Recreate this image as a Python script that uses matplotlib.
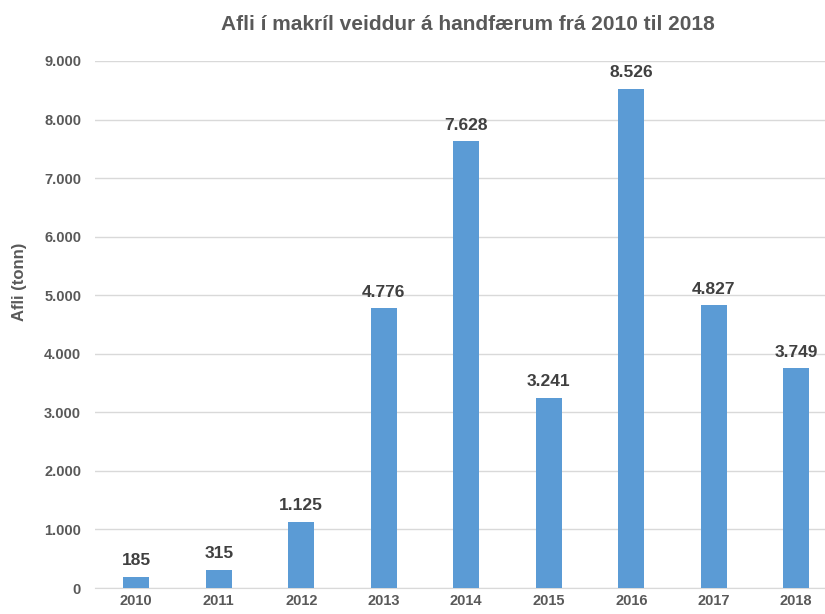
import matplotlib
matplotlib.use("Agg")
import matplotlib.pyplot as plt

plt.rcParams["font.family"] = ["Liberation Sans", "DejaVu Sans"]

years = ["2010", "2011", "2012", "2013", "2014", "2015", "2016", "2017", "2018"]
catch = [185, 315, 1125, 4776, 7628, 3241, 8526, 4827, 3749]
yticks = [0, 1000, 2000, 3000, 4000, 5000, 6000, 7000, 8000, 9000]


def fmt(v):
    # Icelandic thousands separator
    return f"{v:,}".replace(",", ".")


W, H = 825, 614
fig = plt.figure(figsize=(W / 100, H / 100), dpi=100)
ax = fig.add_axes([95 / W, 26 / H, (W - 95) / W, (588 - 61) / H])

x = list(range(len(years)))
bars = ax.bar(x, catch, width=0.32, color="#5B9BD5", zorder=3)

for xi, v in zip(x, catch):
    ax.text(xi, v + 150, fmt(v), ha="center", va="bottom",
            fontsize=12.5, fontweight="bold", color="#404040")

ax.set_ylim(0, 9000)
ax.set_xlim(-0.5, (W - 95) / 82.5 - 0.5)
ax.set_yticks(yticks)
ax.set_yticklabels([fmt(t) for t in yticks])
ax.set_xticks(x)
ax.set_xticklabels(years)
ax.tick_params(axis="both", length=0, labelsize=10.5, labelcolor="#595959", pad=10)
for lbl in ax.get_xticklabels() + ax.get_yticklabels():
    lbl.set_fontweight("bold")
ax.tick_params(axis="x", pad=4)

ax.grid(axis="y", color="#D9D9D9", linewidth=1, zorder=0)
for s in ["top", "right", "left"]:
    ax.spines[s].set_visible(False)
ax.spines["bottom"].set_color("#D9D9D9")

fig.text(20 / W, 1 - 282 / H, "Afli (tonn)", rotation=90, ha="center", va="center",
         fontsize=12, fontweight="bold", color="#595959")
fig.text(468 / W, 1 - 25 / H, "Afli í makríl veiddur á handfærum frá 2010 til 2018",
         ha="center", va="center", fontsize=15, fontweight="bold", color="#595959")

fig.savefig("out.png", dpi=100)
